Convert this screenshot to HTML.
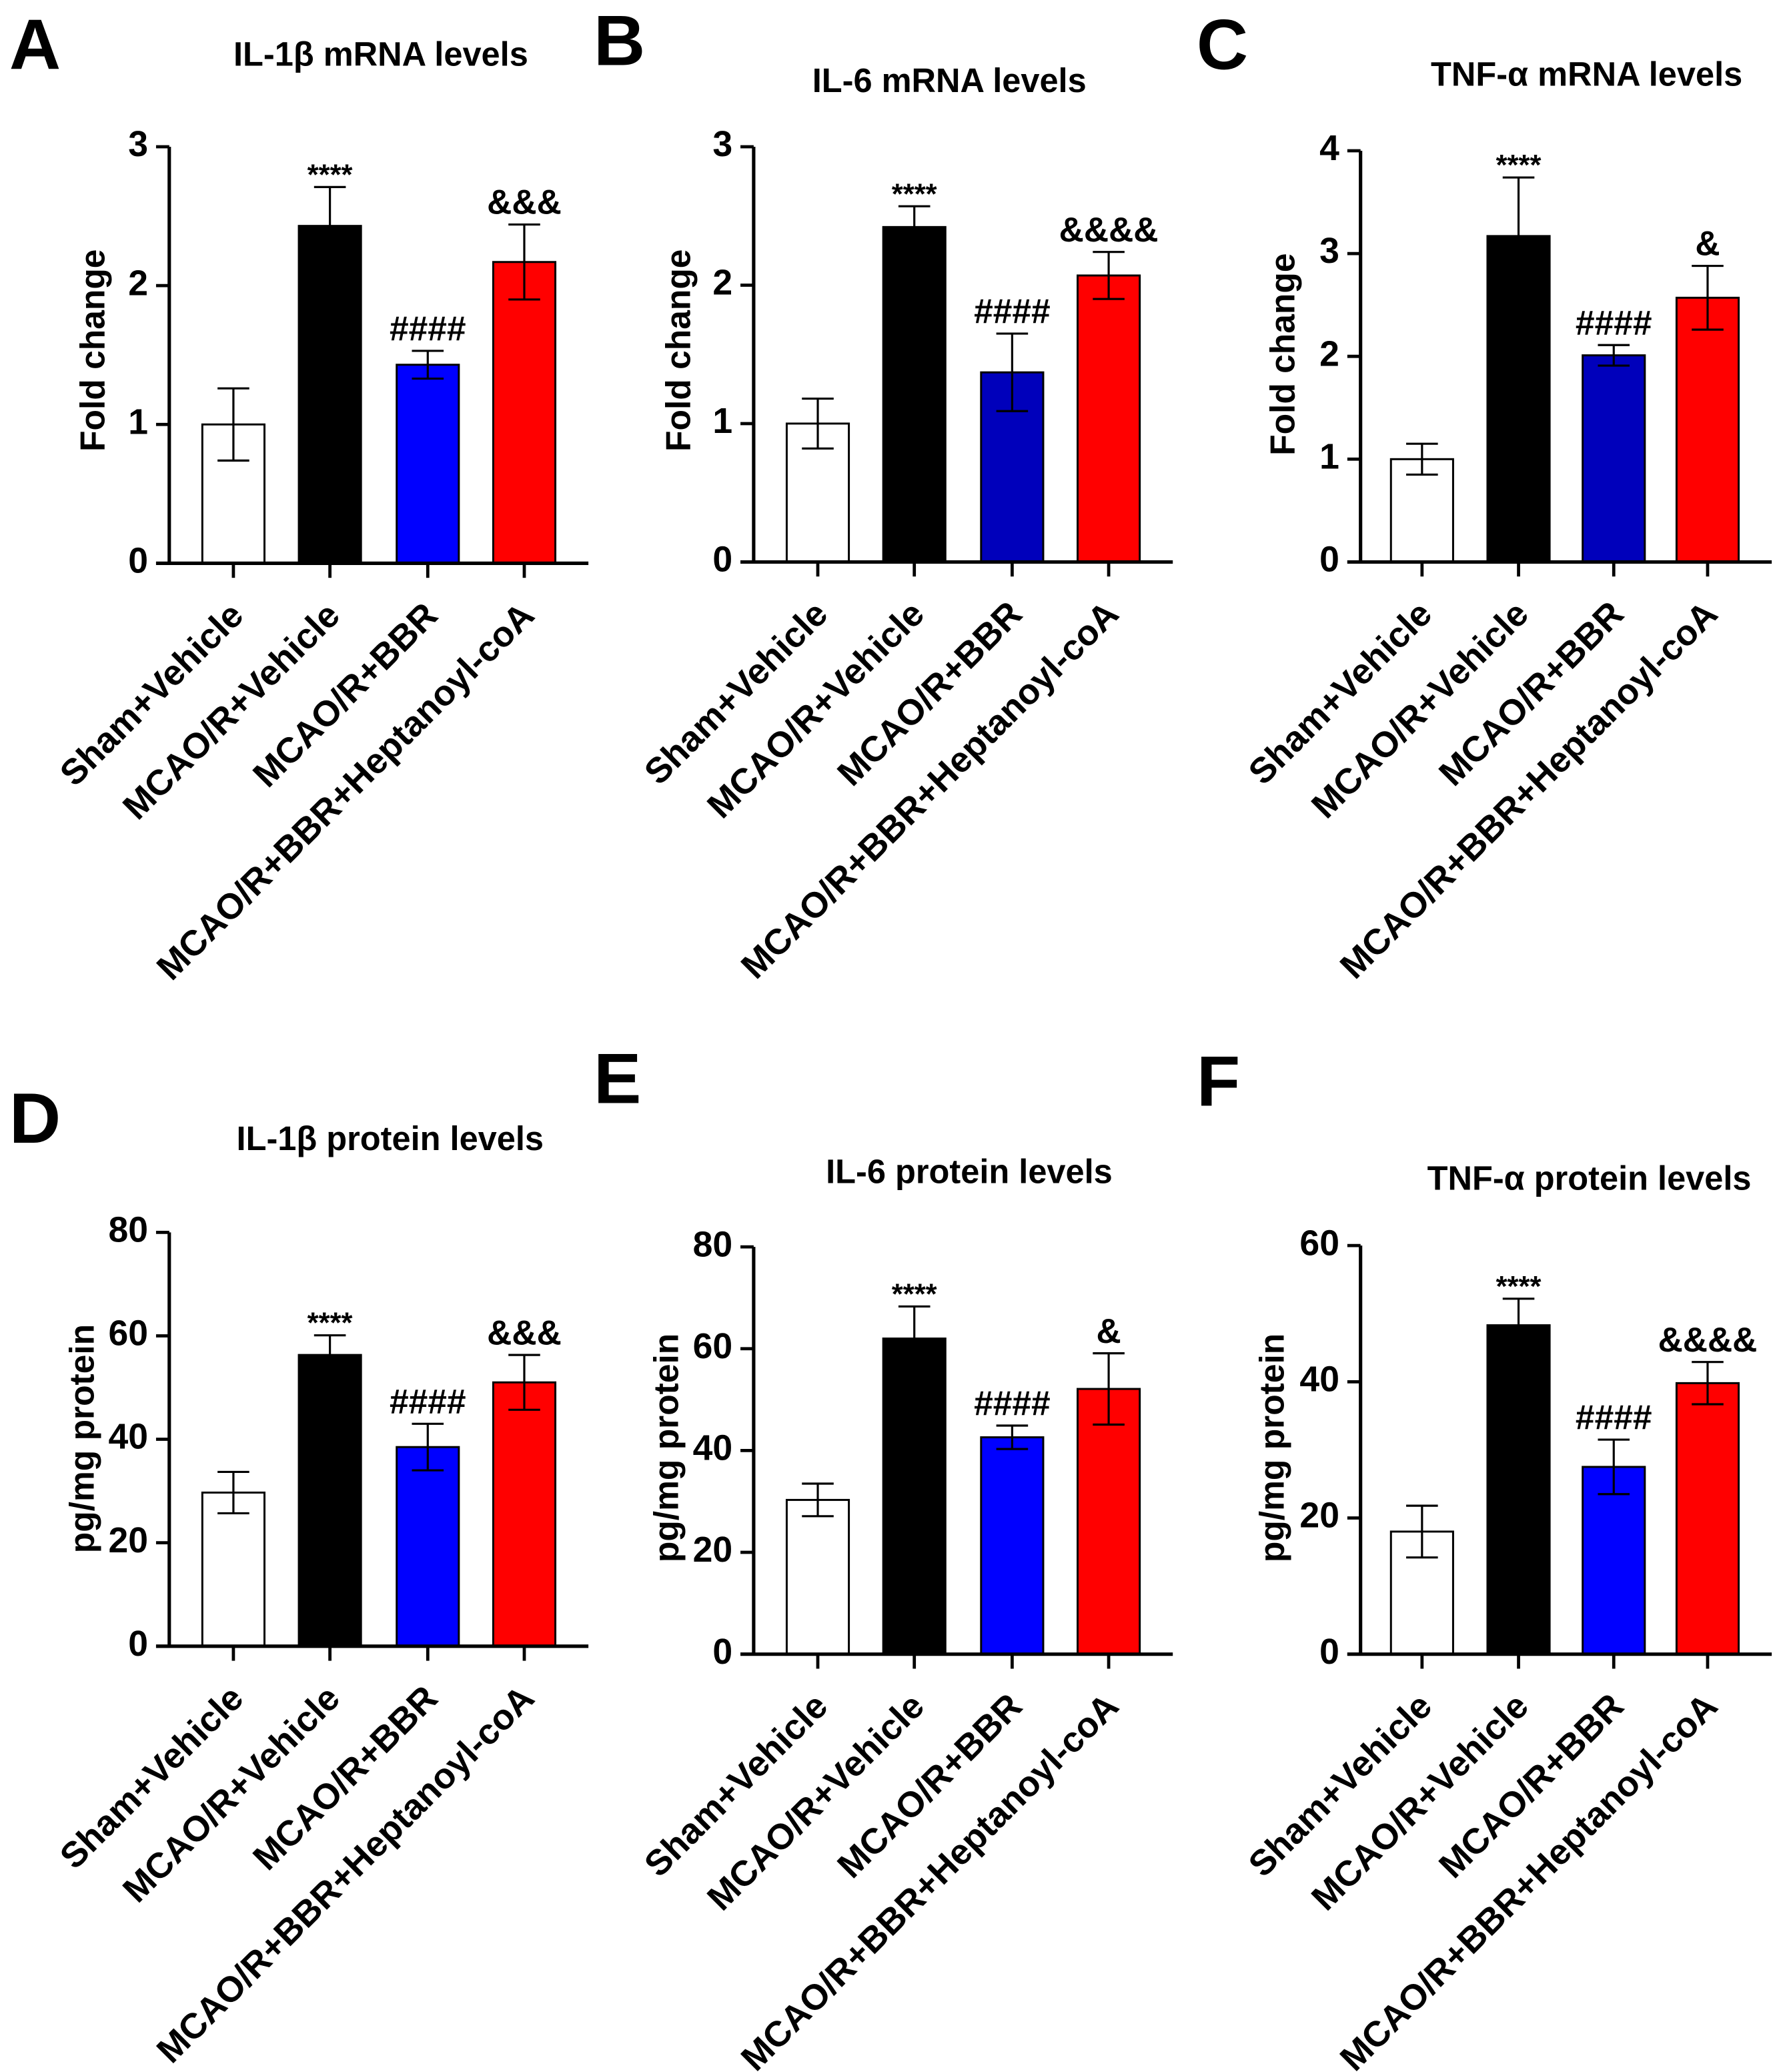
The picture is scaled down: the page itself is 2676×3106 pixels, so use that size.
<!DOCTYPE html>
<html><head><meta charset="utf-8"><style>
html,body{margin:0;padding:0;background:#fff;}
svg{display:block;font-family:"Liberation Sans",Arial,sans-serif;font-weight:bold;}
</style></head><body>
<svg id="fig" xmlns="http://www.w3.org/2000/svg" width="2676" height="3106" viewBox="0 0 1350 1567"></svg>
<script>
const categories = ["Sham+Vehicle","MCAO/R+Vehicle","MCAO/R+BBR","MCAO/R+BBR+Heptanoyl-coA"];
const meansA = [1.0, 2.43, 1.43, 2.17];
const errsA  = [0.26, 0.28, 0.10, 0.27];
const meansB = [1.0, 2.42, 1.37, 2.07];
const errsB  = [0.18, 0.15, 0.28, 0.17];
const meansC = [1.0, 3.17, 2.01, 2.57];
const errsC  = [0.15, 0.57, 0.10, 0.31];
const meansD = [29.7, 56.3, 38.5, 51.0];
const errsD  = [4.0, 3.8, 4.5, 5.3];
const meansE = [30.3, 62.0, 42.6, 52.1];
const errsE  = [3.2, 6.3, 2.3, 7.0];
const meansF = [18.0, 48.3, 27.5, 39.8];
const errsF  = [3.8, 3.9, 4.0, 3.1];
const ticksMRNA3 = [0,1,2,3];
const ticksMRNA4 = [0,1,2,3,4];
const ticksProt80 = [0,20,40,60,80];
const ticksProt60 = [0,20,40,60];

const offL=[25,98,172,245], offR=[23,96,168,239];
const panels = [
 {letter:"A",title:"IL-1β mRNA levels",yt:"Fold change",means:meansA,errs:errsA,ticks:ticksMRNA3,marks:["","****","####","&&&"],
  ax:128,y0:426,yTop:111,lx:7,ly:38,tx:288,ty:43,ytx:72,yty:265,blue:"#0000ff",off:offL},
 {letter:"B",title:"IL-6 mRNA levels",yt:"Fold change",means:meansB,errs:errsB,ticks:ticksMRNA3,marks:["","****","####","&&&&"],
  ax:570,y0:425,yTop:111,lx:449,ly:35,tx:718,ty:63,ytx:515,yty:265,blue:"#0000bb",off:offL},
 {letter:"C",title:"TNF-α mRNA levels",yt:"Fold change",means:meansC,errs:errsC,ticks:ticksMRNA4,marks:["","****","####","&"],
  ax:1029,y0:425,yTop:114,lx:905,ly:38,tx:1200,ty:58,ytx:972,yty:268,blue:"#0000bb",off:offR},
 {letter:"D",title:"IL-1β protein levels",yt:"pg/mg protein",means:meansD,errs:errsD,ticks:ticksProt80,marks:["","****","####","&&&"],
  ax:128,y0:1245,yTop:932,lx:7,ly:850,tx:295,ty:863,ytx:64,yty:1088,blue:"#0000ff",off:offL},
 {letter:"E",title:"IL-6 protein levels",yt:"pg/mg protein",means:meansE,errs:errsE,ticks:ticksProt80,marks:["","****","####","&"],
  ax:570,y0:1251,yTop:943,lx:449,ly:820,tx:733,ty:888,ytx:506,yty:1095,blue:"#0000ff",off:offL},
 {letter:"F",title:"TNF-α protein levels",yt:"pg/mg protein",means:meansF,errs:errsF,ticks:ticksProt60,marks:["","****","####","&&&&"],
  ax:1029,y0:1251,yTop:942,lx:905,ly:822,tx:1202,ty:893,ytx:964,yty:1095,blue:"#0000ff",off:offR}
];
const NS="http://www.w3.org/2000/svg";
const svg=document.getElementById('fig');
function mk(tag,attrs,parent,txt){const e=document.createElementNS(NS,tag);for(const k in attrs)e.setAttribute(k,attrs[k]);if(txt!==undefined)e.textContent=txt;parent.appendChild(e);return e;}
panels.forEach((p)=>{
  const g=mk('g',{},svg);
  
  
  const maxT=p.ticks[p.ticks.length-1];
  const yS=v=>p.y0-(v/maxT)*(p.y0-p.yTop);
  const bw=47;
  const xS=i=>p.ax+p.off[i]+bw/2;
  const colors=["#ffffff","#000000",p.blue,"#ff0000"];
  let t=mk('text',{x:p.lx,y:p.ly,'font-size':54,'dominant-baseline':'middle'},g,p.letter);
  
  
  t=mk('text',{x:p.tx,y:p.ty,'font-size':25.5,'text-anchor':'middle','dominant-baseline':'middle'},g,p.title);
  
  
  t=mk('text',{x:0,y:0,'font-size':26,'text-anchor':'middle','dominant-baseline':'middle',transform:`translate(${p.ytx},${p.yty}) rotate(-90)`},g,p.yt);
  
  
  p.means.forEach((m,i)=>{
    const x=xS(i)-bw/2;
    const r=mk('rect',{x:x,y:yS(m),width:bw,height:p.y0-yS(m),fill:colors[i],stroke:'#000','stroke-width':1.5},g);
    
    
    const top=yS(m+p.errs[i]), bot=yS(m-p.errs[i]), cx=xS(i);
    const eb=mk('path',{d:`M${cx},${top}V${bot}M${cx-12},${top}H${cx+12}M${cx-12},${bot}H${cx+12}`,stroke:'#000','stroke-width':1.6,fill:'none'},g);
    
    
    const mk2=p.marks[i];
    if(mk2){
      const isStar=mk2[0]==='*';
      const a=mk('text',{x:cx,y:isStar?top-2:top-8,'font-size':isStar?22:26,'text-anchor':'middle'},g,mk2);
      
      
    }
  });
  const ya=mk('path',{d:`M${p.ax},${p.yTop}V${p.y0}`,stroke:'#000','stroke-width':2.6,fill:'none'},g);
  
  
  const xa=mk('path',{d:`M${p.ax-10},${p.y0}H${p.ax+p.off[3]+bw+25}`,stroke:'#000','stroke-width':2.6,fill:'none'},g);
  
  
  p.ticks.forEach(v=>{
    const y=yS(v);
    mk('path',{d:`M${p.ax-10},${y}H${p.ax}`,stroke:'#000','stroke-width':2.4},g);
    const tl=mk('text',{x:p.ax-16,y:y,'font-size':27,'text-anchor':'end','dominant-baseline':'middle'},g,String(v));
    
    
  });
  categories.forEach((c,i)=>{
    const cx=xS(i);
    mk('path',{d:`M${cx},${p.y0}V${p.y0+11}`,stroke:'#000','stroke-width':2.4},g);
    const xl=mk('text',{x:0,y:0,'font-size':27,'text-anchor':'end',transform:`translate(${cx+9},${p.y0+41}) rotate(-45)`},g,c);
    
    
  });
});
</script>
</body></html>
